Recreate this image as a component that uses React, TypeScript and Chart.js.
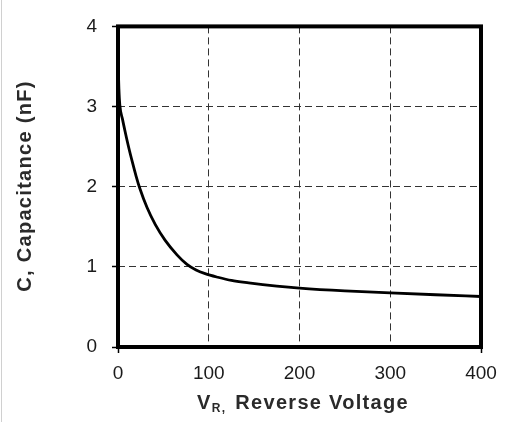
import { useEffect, useRef } from "react";
import { Chart, registerables } from "chart.js";

Chart.register(...registerables);

// Junction capacitance vs. reverse voltage
const voltage = [0, 1, 2, 5, 8, 12, 16, 20, 24, 32, 41, 52, 65, 76, 86, 96, 110, 125, 144, 175, 200, 250, 300, 350, 400];
const capacitance = [3.6, 3.22, 3.02, 2.84, 2.68, 2.48, 2.3, 2.13, 1.98, 1.74, 1.53, 1.33, 1.15, 1.03, 0.96, 0.915, 0.87, 0.83, 0.8, 0.76, 0.735, 0.7, 0.675, 0.652, 0.63];

const xTickValues = [0, 100, 200, 300, 400];
const yTickValues = [0, 1, 2, 3, 4];

const xTitleMain = "V";
const xTitleSub = "R,";
const xTitleRest = "Reverse Voltage";
const yTitle = "C, Capacitance (nF)";

const FONT = '"Liberation Sans", Arial, sans-serif';
const W = 508;
const H = 422;

const framePlugin = {
  id: "frame",
  afterDraw(chart: any) {
    const { ctx, chartArea } = chart;
    const { left, top, right, bottom } = chartArea;
    ctx.save();

    // page edge line
    ctx.strokeStyle = "#d0d0d0";
    ctx.lineWidth = 1;
    ctx.beginPath();
    ctx.moveTo(1.5, 0);
    ctx.lineTo(1.5, H);
    ctx.stroke();

    // heavy plot frame
    ctx.strokeStyle = "#000";
    ctx.lineWidth = 4;
    ctx.strokeRect(left, top, right - left, bottom - top);

    ctx.fillStyle = "#2a2a2a";
    (ctx as any).letterSpacing = "1.3px";

    // x axis title with subscript
    const big = `bold 20px ${FONT}`;
    const small = `bold 12px ${FONT}`;
    ctx.font = big;
    const wMain = ctx.measureText(xTitleMain).width;
    const wRest = ctx.measureText(xTitleRest).width;
    ctx.font = small;
    const wSub = ctx.measureText(xTitleSub).width;
    const gap = 9;
    const total = wMain + wSub + gap + wRest;
    let x = 303 - total / 2;
    const baseY = 409;
    ctx.textBaseline = "alphabetic";
    ctx.textAlign = "left";
    ctx.font = big;
    ctx.fillText(xTitleMain, x, baseY);
    x += wMain;
    ctx.font = small;
    ctx.fillText(xTitleSub, x, baseY + 3);
    x += wSub + gap;
    ctx.font = big;
    ctx.fillText(xTitleRest, x, baseY);

    // y axis title, rotated
    ctx.translate(31, 186);
    ctx.rotate(-Math.PI / 2);
    ctx.textAlign = "center";
    ctx.font = big;
    ctx.fillText(yTitle, 0, 0);

    ctx.restore();
  },
};

export default function App() {
  const canvasRef = useRef<HTMLCanvasElement | null>(null);

  useEffect(() => {
    document.body.style.margin = "0";
    const canvas = canvasRef.current;
    if (!canvas) return;

    const chart = new Chart(canvas, {
      type: "line",
      data: {
        datasets: [
          {
            data: voltage.map((v, i) => ({ x: v, y: capacitance[i] })),
            borderColor: "#000",
            borderWidth: 2.8,
            pointRadius: 0,
            cubicInterpolationMode: "monotone",
            fill: false,
          },
        ],
      },
      options: {
        animation: false,
        responsive: false,
        devicePixelRatio: 1,
        layout: { padding: { left: 0, top: 17, right: 27, bottom: 0 } },
        plugins: {
          legend: { display: false },
          tooltip: { enabled: false },
        },
        scales: {
          x: {
            type: "linear",
            min: 0,
            max: 400,
            afterBuildTicks: (s: any) => {
              s.ticks = xTickValues.map((v) => ({ value: v }));
            },
            afterFit: (s: any) => {
              s.height = 75;
            },
            grid: {
              color: "#333",
              lineWidth: 1,
              tickLength: 6,
              tickWidth: 1.5,
              tickColor: (c: any) =>
                c.tick && (c.tick.value === 0 || c.tick.value === 400) ? "#000" : "rgba(0,0,0,0)",
            },
            border: { display: false, dash: [7, 4] },
            ticks: {
              color: "#1a1a1a",
              font: { family: FONT, size: 19 },
              padding: 9,
              maxRotation: 0,
            },
          },
          y: {
            type: "linear",
            min: 0,
            max: 4,
            afterBuildTicks: (s: any) => {
              s.ticks = yTickValues.map((v) => ({ value: v }));
            },
            afterFit: (s: any) => {
              s.width = 118;
            },
            grid: {
              color: "#333",
              lineWidth: 1,
              tickLength: 6,
              tickWidth: 1.5,
              tickColor: "#000",
            },
            border: { display: false, dash: [7, 4] },
            ticks: {
              color: "#1a1a1a",
              font: { family: FONT, size: 19 },
              padding: 15,
            },
          },
        },
      },
      plugins: [framePlugin],
    } as any);

    return () => chart.destroy();
  }, []);

  return (
    <div style={{ position: "fixed", left: 0, top: 0, width: W, height: H, background: "#fff" }}>
      <canvas ref={canvasRef} width={W} height={H} style={{ display: "block", width: W, height: H }} />
    </div>
  );
}
